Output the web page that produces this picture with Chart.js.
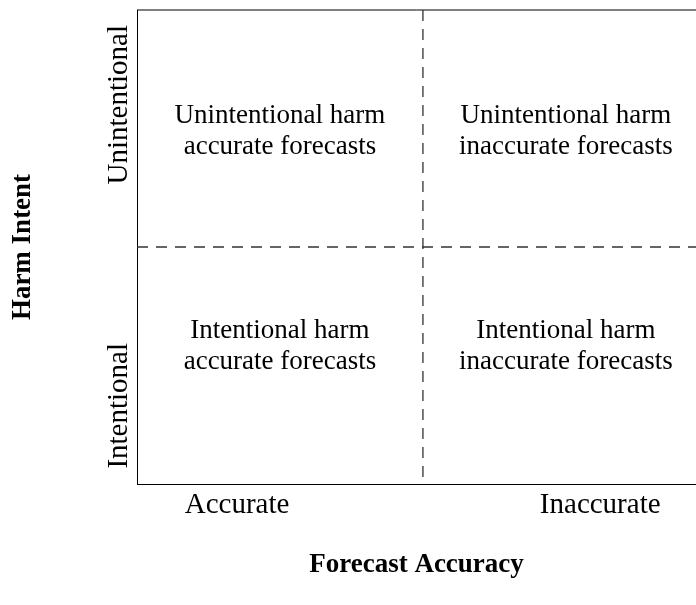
<!DOCTYPE html>
<html>
<head>
<meta charset="utf-8">
<script src="https://cdn.jsdelivr.net/npm/chart.js@4"></script>
<style>
  html, body { margin: 0; padding: 0; background: #fff; }
  #wrap { width: 696px; height: 605px; }
</style>
</head>
<body>
<div id="wrap"><canvas id="quadChart"></canvas></div>
<script>
// axis ticks
const xTickValues = [0.35, 1.62];
const xTickLabels = ['Accurate', 'Inaccurate'];
const yTickValues = [0.33, 1.6];
const yTickLabels = ['Intentional', 'Unintentional'];

// quadrant texts (centre of each text block, in data units)
const quadX = [0.5, 1.5, 0.5, 1.5];
const quadY = [1.487, 1.487, 0.58, 0.58];
const quadText = [
    ['Unintentional harm', 'accurate forecasts'],
    ['Unintentional harm', 'inaccurate forecasts'],
    ['Intentional harm', 'accurate forecasts'],
    ['Intentional harm', 'inaccurate forecasts']
];

// divider lines
const xMin = 0, xMax = 1.955, yMin = 0, yMax = 2;
const splitX = 1;
const splitY = 1;

const serif = "'Liberation Serif', 'Times New Roman', serif";
const ink = '#000';
const lineColor = '#333';

// Draw the quadrant texts and the rotated y tick labels
const labelPlugin = {
    id: 'labelPlugin',
    afterDraw(chart) {
        const ctx = chart.ctx;
        const xs = chart.scales.x;
        const ys = chart.scales.y;
        ctx.save();
        ctx.fillStyle = ink;
        ctx.font = '27px ' + serif;
        ctx.textAlign = 'center';
        ctx.textBaseline = 'middle';
        const lh = 31;
        quadText.forEach((lines, i) => {
            const cx = xs.getPixelForValue(quadX[i]);
            const cy = ys.getPixelForValue(quadY[i]);
            lines.forEach((line, j) => {
                ctx.fillText(line, cx, cy + (j - (lines.length - 1) / 2) * lh);
            });
        });

        // y tick labels, rotated
        ctx.font = '29px ' + serif;
        yTickValues.forEach((v, i) => {
            const py = ys.getPixelForValue(v);
            ctx.save();
            ctx.translate(ys.right - 18, py);
            ctx.rotate(-Math.PI / 2);
            ctx.fillText(yTickLabels[i], 0, 0);
            ctx.restore();
        });
        ctx.restore();
    }
};

const lineStyle = {
    showLine: true,
    pointRadius: 0,
    borderWidth: 1.3,
    borderColor: lineColor,
    clip: false
};

const data = {
    datasets: [
        {
            ...lineStyle,
            data: [{ x: splitX, y: yMax }, { x: splitX, y: yMin }],
            borderDash: [11, 8]
        },
        {
            ...lineStyle,
            data: [{ x: xMin, y: splitY }, { x: xMax, y: splitY }],
            borderDash: [11, 8]
        },
        {
            ...lineStyle,
            borderColor: ink,
            borderWidth: 1,
            data: [{ x: xMin, y: yMax }, { x: xMax, y: yMax }]
        }
    ]
};

const config = {
    type: 'scatter',
    data: data,
    options: {
        responsive: true,
        maintainAspectRatio: false,
        animation: false,
        layout: {
            padding: { top: 10, left: 0, right: 0, bottom: 0 }
        },
        plugins: {
            legend: { display: false },
            tooltip: { enabled: false }
        },
        scales: {
            x: {
                type: 'linear',
                min: xMin,
                max: xMax,
                grid: { display: false },
                border: { display: true, color: ink, width: 1 },
                afterBuildTicks: scale => {
                    scale.ticks = xTickValues.map(v => ({ value: v }));
                },
                afterFit: scale => {
                    scale.height = 121;
                },
                ticks: {
                    padding: -4,
                    color: ink,
                    maxRotation: 0,
                    autoSkip: false,
                    font: { family: serif, size: 29 },
                    callback: (value, index) => xTickLabels[index]
                },
                title: {
                    display: true,
                    text: 'Forecast Accuracy',
                    color: ink,
                    font: { family: serif, size: 27, weight: 'bold' },
                    padding: { top: 0, bottom: 24 }
                }
            },
            y: {
                type: 'linear',
                min: yMin,
                max: yMax,
                grid: { display: false },
                border: { display: true, color: ink, width: 1 },
                ticks: { display: false },
                afterFit: scale => {
                    scale.width = 137;
                },
                title: {
                    display: true,
                    text: 'Harm Intent',
                    color: ink,
                    font: { family: serif, size: 27, weight: 'bold' },
                    padding: { top: 7, bottom: 0 }
                }
            }
        }
    },
    plugins: [labelPlugin]
};

new Chart(document.getElementById('quadChart'), config);
</script>
</body>
</html>
